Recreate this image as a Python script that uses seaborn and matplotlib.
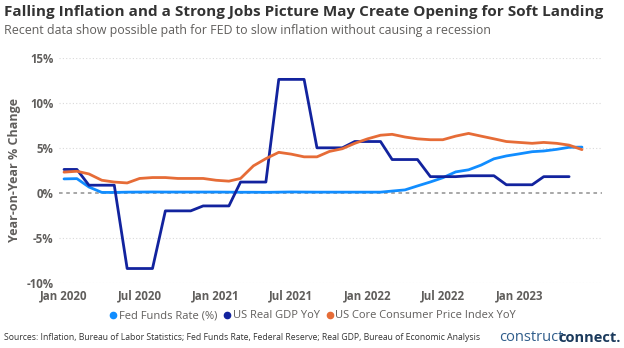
import numpy as np
import pandas as pd
import matplotlib
matplotlib.use("Agg")
import matplotlib.pyplot as plt
import matplotlib.dates as mdates
import seaborn as sns

months = pd.date_range("2020-01-01", "2023-06-01", freq="MS")

fed_funds = [1.55, 1.58, 0.65, 0.05, 0.05, 0.08, 0.09, 0.10, 0.09, 0.09, 0.09, 0.09,
             0.09, 0.08, 0.07, 0.07, 0.06, 0.08, 0.10, 0.09, 0.08, 0.08, 0.08, 0.08,
             0.08, 0.08, 0.20, 0.33, 0.77, 1.21, 1.68, 2.33, 2.56, 3.08, 3.78, 4.10,
             4.33, 4.57, 4.65, 4.83, 5.06, 5.08]

real_gdp = [2.6, 2.6, 0.85, 0.85, 0.85, -8.4, -8.4, -8.4, -2.0, -2.0, -2.0, -1.45,
            -1.45, -1.45, 1.2, 1.2, 1.2, 12.6, 12.6, 12.6, 5.0, 5.0, 5.0, 5.7,
            5.7, 5.7, 3.7, 3.7, 3.7, 1.8, 1.8, 1.8, 1.9, 1.9, 1.9, 0.9,
            0.9, 0.9, 1.8, 1.8, 1.8, np.nan]

core_cpi = [2.3, 2.4, 2.1, 1.4, 1.2, 1.1, 1.6, 1.7, 1.7, 1.6, 1.6, 1.6,
            1.4, 1.3, 1.6, 3.0, 3.8, 4.5, 4.3, 4.0, 4.0, 4.6, 4.9, 5.5,
            6.0, 6.4, 6.5, 6.2, 6.0, 5.9, 5.9, 6.3, 6.6, 6.3, 6.0, 5.7,
            5.6, 5.5, 5.6, 5.5, 5.3, 4.8]

series_names = ["Fed Funds Rate (%)", "US Real GDP YoY", "US Core Consumer Price Index YoY"]
series_colors = ["#118DFF", "#12239E", "#E66C37"]

x_tick_dates = ["2020-01-01", "2020-07-01", "2021-01-01", "2021-07-01",
                "2022-01-01", "2022-07-01", "2023-01-01"]
y_ticks = [-10, -5, 0, 5, 10, 15]
y_tick_labels = ["-10%", "-5%", "0%", "5%", "10%", "15%"]

title = "Falling Inflation and a Strong Jobs Picture May Create Opening for Soft Landing"
subtitle = "Recent data show possible path for FED to slow inflation without causing a recession"
ylabel = "Year-on-Year % Change"
source = ("Sources: Inflation, Bureau of Labor Statistics; Fed Funds Rate, Federal Reserve; "
          "Real GDP, Bureau of Economic Analysis")

df = pd.DataFrame({"date": months,
                   series_names[0]: fed_funds,
                   series_names[1]: real_gdp,
                   series_names[2]: core_cpi})
long = df.melt(id_vars="date", var_name="series", value_name="value")

sns.set_theme(style="white")
plt.rcParams["font.family"] = ["Open Sans", "DejaVu Sans"]

fig = plt.figure(figsize=(6.24, 3.48), dpi=100)
ax = fig.add_axes([0.0946, 0.187, 0.870, 0.647])

sns.lineplot(data=long, x="date", y="value", hue="series", hue_order=series_names,
             palette=series_colors, linewidth=2.0, ax=ax, legend=False, zorder=3)

ax.set_ylim(-10, 15)
ax.set_yticks(y_ticks)
ax.set_yticklabels(y_tick_labels)
ax.set_xlim(pd.Timestamp("2019-12-20"), pd.Timestamp("2023-07-19"))
ax.set_xticks(pd.to_datetime(x_tick_dates))
ax.xaxis.set_major_formatter(mdates.DateFormatter("%b %Y"))

gray = "#605E5C"
for t in ax.get_yticklabels() + ax.get_xticklabels():
    t.set_fontweight("bold")
    t.set_color(gray)
    t.set_fontsize(8.3)
ax.tick_params(axis="both", length=0)
ax.tick_params(axis="y", pad=4)
ax.tick_params(axis="x", pad=5)

for v in [-10, -5, 5, 10, 15]:
    ax.axhline(v, color="#D9D9D9", linestyle=(0, (1, 2)), linewidth=0.8, zorder=1)
ax.axhline(0, color="#A0A0A0", linestyle=(0, (2, 2)), linewidth=1.3, zorder=1)
for s in ax.spines.values():
    s.set_visible(False)
ax.set_xlabel("")
ax.set_ylabel(ylabel, fontsize=9, fontweight="bold", color=gray, labelpad=4)

fig.text(0.006, 0.965, title, fontsize=10.95, fontweight="bold", color="#333333",
         va="center", ha="left")
fig.text(0.006, 0.912, subtitle, fontsize=8.95, color=gray, va="center", ha="left")

# legend
handles = [plt.Line2D([0], [0], marker="o", linestyle="", markersize=4.5,
                      markerfacecolor=c, markeredgecolor=c) for c in series_colors]
leg = fig.legend(handles, series_names, loc="center", bbox_to_anchor=(0.5, 0.092),
                 ncol=3, frameon=False, fontsize=8, handletextpad=0.0,
                 columnspacing=0.4, handlelength=1.0)
for t in leg.get_texts():
    t.set_color(gray)

fig.text(0.006, 0.03, source, fontsize=6.2, color="#333333", va="center", ha="left")
fig.text(0.80, 0.03, "construct", fontsize=10.5, color="#2E5C8A", va="center", ha="left")
fig.text(0.995, 0.03, "connect.", fontsize=10.5, fontweight="bold", color="#1B3A5C",
         va="center", ha="right")

fig.savefig("out.png", dpi=100)
